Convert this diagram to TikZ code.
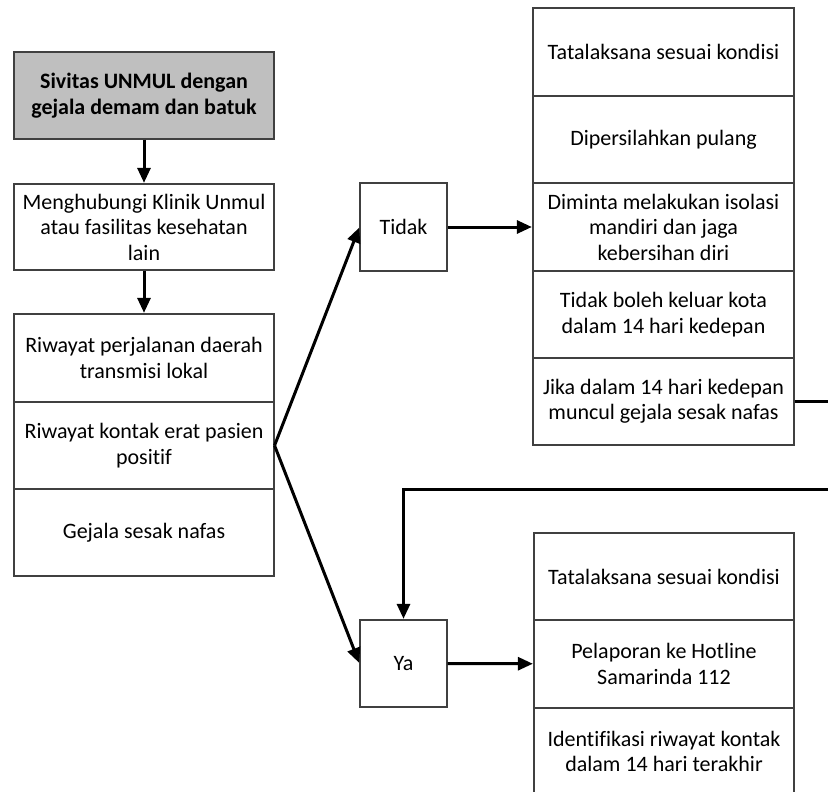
\documentclass[tikz,border=0pt]{standalone}
\usepackage{fontspec}
\setmainfont[Ligatures=NoCommon]{Carlito}
\usetikzlibrary{arrows.meta}
\tikzset{
  cell/.style={draw=black!75, line width=1.1pt, fill=white, inner sep=0pt, align=center,
    font=\fontsize{22}{25.5}\selectfont, minimum width=#1},
  cell/.default=261pt,
  arr/.style={line width=3pt, -{Triangle[length=15pt,width=13pt]}, shorten >=0.6pt},
}
\begin{document}
\begin{tikzpicture}[x=1pt,y=-1pt]
\useasboundingbox (0,0) rectangle (828,792);
\clip (0,0) rectangle (828,792);
% left column
\node[cell=260pt, minimum height=87pt, fill=black!25, font=\fontsize{22}{25.5}\selectfont\bfseries] (start) at (144,95.5) {Sivitas UNMUL dengan\\gejala demam dan batuk};
\node[cell=260pt, minimum height=86pt] (contact) at (144,227) {Menghubungi Klinik Unmul\\atau fasilitas kesehatan\\lain};
\node[cell=260pt, minimum height=88pt] (r1) at (144,358) {Riwayat perjalanan daerah\\transmisi lokal};
\node[cell=260pt, minimum height=87pt] (r2) at (144,445.5) {Riwayat kontak erat pasien\\positif};
\node[cell=260pt, minimum height=87pt] (r3) at (144,532.5) {Gejala sesak nafas};
% decision boxes
\node[cell=87pt, minimum height=88pt] (tidak) at (403.5,227) {Tidak};
\node[cell=87pt, minimum height=87pt] (ya) at (403.5,663.5) {Ya};
% right top group
\node[cell, minimum height=88pt] (t1) at (663.5,52) {Tatalaksana sesuai kondisi};
\node[cell, minimum height=87pt] (t2) at (663.5,139.5) {Dipersilahkan pulang};
\node[cell, minimum height=88pt] (t3) at (663.5,227) {Diminta melakukan isolasi\\mandiri dan jaga\\kebersihan diri};
\node[cell, minimum height=87pt] (t4) at (663.5,314.5) {Tidak boleh keluar kota\\dalam 14 hari kedepan};
\node[cell, minimum height=87pt] (t5) at (663.5,401.5) {Jika dalam 14 hari kedepan\\muncul gejala sesak nafas};
% right bottom group
\node[cell=260pt, minimum height=87pt] (y1) at (664,576.5) {Tatalaksana sesuai kondisi};
\node[cell=260pt, minimum height=88pt] (y2) at (664,664) {Pelaporan ke Hotline\\Samarinda 112};
\node[cell=260pt, minimum height=87pt] (y3) at (664,751.5) {Identifikasi riwayat kontak\\dalam 14 hari terakhir};
% connectors
\draw[arr] (start) -- (contact);
\draw[arr] (contact) -- (r1);
\draw[arr] (r2.east) -- (tidak.west);
\draw[arr] (r2.east) -- (ya.west);
\draw[arr] (tidak) -- (t3);
\draw[arr] (ya) -- (y2);
\coordinate (fb) at (403.5,489);
\draw[arr] (t5.east) -- (845,401.5) -- (845,489) -- (fb) -- (ya.north);
\end{tikzpicture}
\end{document}
